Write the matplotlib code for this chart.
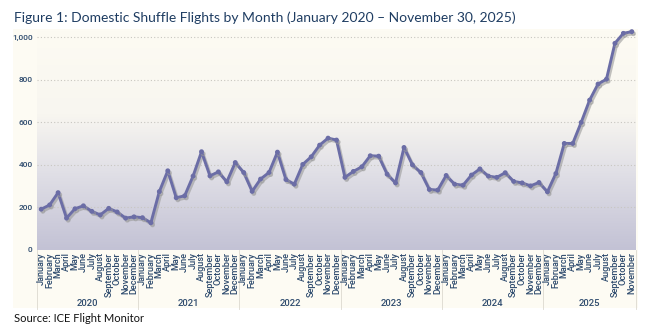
import matplotlib
matplotlib.use("Agg")
import matplotlib.pyplot as plt
import matplotlib.patheffects as pe
from matplotlib.colors import LinearSegmentedColormap
from matplotlib.patches import Rectangle
import numpy as np

# data
years = ["2020", "2021", "2022", "2023", "2024", "2025"]
months = ["January", "February", "March", "April", "May", "June", "July",
          "August", "September", "October", "November", "December"]
flights = [
    # 2020
    190, 210, 268, 148, 192, 206, 180, 163, 194, 177, 148, 154,
    # 2021
    150, 126, 273, 371, 244, 253, 346, 461, 347, 366, 319, 410,
    # 2022
    363, 274, 332, 363, 459, 330, 308, 401, 437, 492, 525, 516,
    # 2023
    340, 368, 390, 442, 440, 355, 314, 481, 399, 363, 283, 280,
    # 2024
    349, 308, 303, 351, 380, 346, 340, 362, 321, 314, 300, 316,
    # 2025
    272, 358, 500, 500, 599, 704, 780, 803, 972, 1019, 1027,
]
yticks = [0, 200, 400, 600, 800, 1000]
ytick_labels = ["0", "200", "400", "600", "800", "1,000"]

navy = "#1f3d62"
tick_col = "#2e4b6e"
line_col = "#6b6da6"

W, H = 672, 330
fig = plt.figure(figsize=(W / 100, H / 100), dpi=100)
fig.patch.set_facecolor("white")

# cream panel behind the chart
fig.patches.append(Rectangle((13 / W, 1 - 308 / H), (638 - 13) / W, (308 - 29) / H,
                             transform=fig.transFigure, facecolor="#fdfbf3",
                             edgecolor="none", zorder=-10))

ax = fig.add_axes([37 / W, 1 - 249.5 / H, (636 - 37) / W, (249.5 - 31) / H])
ax.set_facecolor("none")

labels = [m for y in years for m in months][:len(flights)]
x = np.arange(len(flights))

# background gradient
cmap = LinearSegmentedColormap.from_list(
    "bg", [(0.0, "#c3c2d5"), (0.35, "#e0dfe6"), (0.62, "#f8f6f0"), (1.0, "#fdfbf3")])
grad = np.linspace(0, 1, 256).reshape(-1, 1)
ax.imshow(grad, cmap=cmap, aspect="auto", origin="lower",
          extent=[-0.5, len(flights) - 0.5, 0, 1030], zorder=0)

for t in yticks[1:]:
    ax.axhline(t, color="#c8c6c0", lw=0.8, ls=(0, (1, 2)), zorder=1)

ax.plot(x, flights, color=line_col, lw=2.1, marker="o", ms=2.5,
        solid_joinstyle="round", zorder=3, clip_on=False,
        path_effects=[pe.SimpleLineShadow(offset=(1.2, -1.5), shadow_color="#9a9a9a", alpha=0.6),
                      pe.Normal()])

ax.set_yticks(yticks)
ax.set_yticklabels(ytick_labels, fontsize=6, color=tick_col, family="Roboto",
                   fontweight="medium")
ax.set_xticks(x)
ax.set_xticklabels(labels, rotation=90, fontsize=6.6, color=tick_col, family="Roboto",
                   fontweight="medium", va="top")
ax.tick_params(length=0, pad=2)
ax.tick_params(axis="y", pad=3)
for s in ax.spines.values():
    s.set_visible(False)

# year group labels and separators
for i, yr in enumerate(years):
    start = i * 12 - 0.5
    end = min(start + 12, len(flights) - 0.5)
    ax.text((start + end) / 2, -255, yr, ha="center", va="center", fontsize=6.8,
            color=tick_col, family="Roboto", fontweight="medium", clip_on=False)
for b in range(0, 7):
    xb = b * 12 - 0.5
    if b == 6:
        xb = len(flights) - 0.5
    ax.plot([xb, xb], [0, -280], color="#dcd9d0", lw=0.6, clip_on=False, zorder=0)

ax.set_xlim(-0.5, len(flights) - 0.5)
ax.set_ylim(0, 1030)

fig.text(14 / W, 1 - 18 / H,
         "Figure 1: Domestic Shuffle Flights by Month (January 2020 \u2013 November 30, 2025)",
         fontsize=10, color=navy, family="Lato", va="center", ha="left")
fig.text(14 / W, 1 - 318 / H, "Source: ICE Flight Monitor", fontsize=8, color="#111111",
         family="Lato", va="center", ha="left")

fig.savefig("out.png", dpi=100)
